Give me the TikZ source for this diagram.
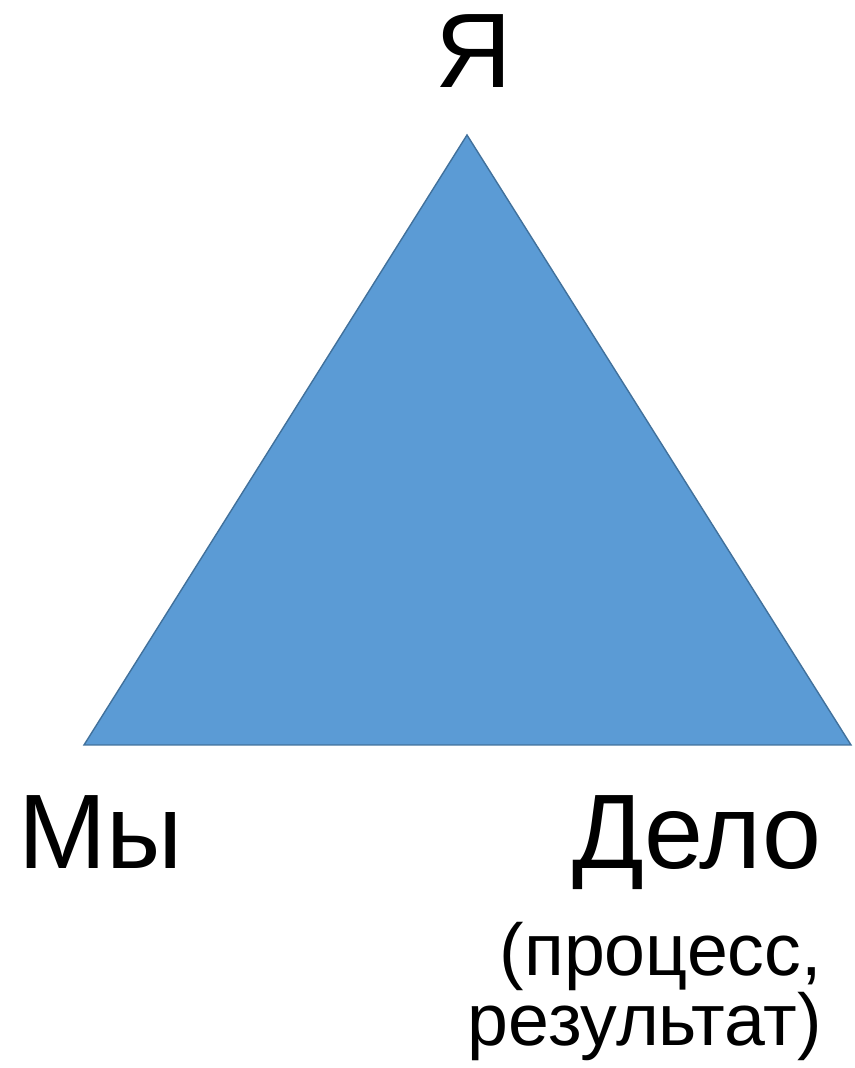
\documentclass[tikz,border=0pt]{standalone}
\usepackage{fontspec}
\setmainfont{Liberation Sans}
\usepackage{tikz}
\definecolor{trifill}{HTML}{5B9BD5}
\definecolor{triedge}{HTML}{41719C}
\tikzset{
  tri face/.style={fill=trifill,draw=triedge,line width=1.4pt,line join=miter},
  big label/.style={inner sep=0pt,font=\fontsize{106}{110}\selectfont},
  small label/.style={inner sep=0pt,font=\fontsize{73.5}{74}\selectfont}
}
\begin{document}
\begin{tikzpicture}[x=1pt,y=1pt]
  \useasboundingbox (0,0) rectangle (854,1068);
  \coordinate (top) at (467,933);
  \coordinate (left) at (84,323);
  \coordinate (right) at (851,323);
  \filldraw[tri face] (left)--(top)--(right)--cycle;
  \node[big label,anchor=base] (ya) at (474,980) {Я};
  \node[big label,anchor=base west] (my) at (18,199) {Мы};
  \node[big label,anchor=base east] (delo) at (822,199) {Дело};
  \node[small label,anchor=base east] (proc) at (822,92) {(процесс,};
  \node[small label,anchor=base east] (rez) at (822,22) {результат)};
\end{tikzpicture}
\end{document}
